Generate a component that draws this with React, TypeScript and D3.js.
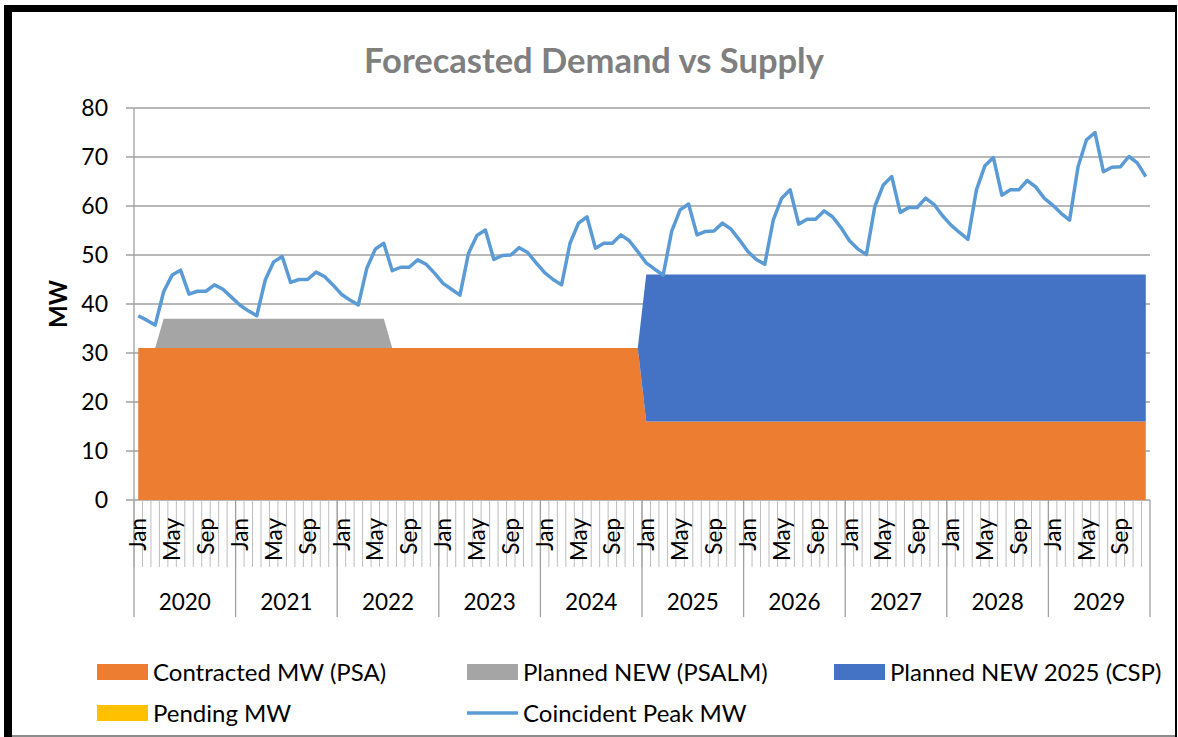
import React from 'react';
import * as d3 from 'd3';

// Coincident peak demand, MW, Jan 2020 .. Dec 2029
const peak2020 = [37.6, 36.7, 35.7, 42.5, 45.9, 46.9, 42.0, 42.6, 42.6, 43.9, 43.0, 41.4];
const peak2021 = [39.8, 38.6, 37.6, 44.9, 48.6, 49.7, 44.4, 45.0, 45.0, 46.5, 45.6, 43.9];
const peak2022 = [42.0, 40.8, 39.8, 47.3, 51.2, 52.4, 46.8, 47.5, 47.5, 49.0, 48.1, 46.3];
const peak2023 = [44.2, 43.0, 41.8, 50.3, 54.0, 55.1, 49.1, 49.9, 50.0, 51.5, 50.5, 48.4];
const peak2024 = [46.4, 45.0, 43.9, 52.4, 56.5, 57.8, 51.4, 52.4, 52.4, 54.1, 52.9, 50.7];
const peak2025 = [48.4, 47.1, 45.9, 54.8, 59.2, 60.4, 54.1, 54.8, 54.9, 56.5, 55.3, 53.1];
const peak2026 = [50.7, 49.1, 48.1, 57.1, 61.6, 63.3, 56.3, 57.3, 57.3, 59.0, 57.8, 55.6];
const peak2027 = [52.9, 51.2, 50.1, 59.9, 64.3, 66.0, 58.7, 59.7, 59.7, 61.6, 60.3, 58.0];
const peak2028 = [56.1, 54.6, 53.2, 63.3, 68.2, 69.9, 62.2, 63.3, 63.3, 65.2, 63.9, 61.6];
const peak2029 = [60.2, 58.5, 57.1, 68.0, 73.5, 75.0, 67.0, 67.9, 68.0, 70.1, 68.8, 66.0];

// Supply, MW per month
const contracted = [
  31, 31, 31, 31, 31, 31, 31, 31, 31, 31, 31, 31,
  31, 31, 31, 31, 31, 31, 31, 31, 31, 31, 31, 31,
  31, 31, 31, 31, 31, 31, 31, 31, 31, 31, 31, 31,
  31, 31, 31, 31, 31, 31, 31, 31, 31, 31, 31, 31,
  31, 31, 31, 31, 31, 31, 31, 31, 31, 31, 31, 31,
  16, 16, 16, 16, 16, 16, 16, 16, 16, 16, 16, 16,
  16, 16, 16, 16, 16, 16, 16, 16, 16, 16, 16, 16,
  16, 16, 16, 16, 16, 16, 16, 16, 16, 16, 16, 16,
  16, 16, 16, 16, 16, 16, 16, 16, 16, 16, 16, 16,
  16, 16, 16, 16, 16, 16, 16, 16, 16, 16, 16, 16,
];
const plannedPsalm = [
  0, 0, 0, 6, 6, 6, 6, 6, 6, 6, 6, 6,
  6, 6, 6, 6, 6, 6, 6, 6, 6, 6, 6, 6,
  6, 6, 6, 6, 6, 6, 0, 0, 0, 0, 0, 0,
  0, 0, 0, 0, 0, 0, 0, 0, 0, 0, 0, 0,
  0, 0, 0, 0, 0, 0, 0, 0, 0, 0, 0, 0,
  0, 0, 0, 0, 0, 0, 0, 0, 0, 0, 0, 0,
  0, 0, 0, 0, 0, 0, 0, 0, 0, 0, 0, 0,
  0, 0, 0, 0, 0, 0, 0, 0, 0, 0, 0, 0,
  0, 0, 0, 0, 0, 0, 0, 0, 0, 0, 0, 0,
  0, 0, 0, 0, 0, 0, 0, 0, 0, 0, 0, 0,
];
const pending = [
  0, 0, 0, 0, 0, 0, 0, 0, 0, 0, 0, 0,
  0, 0, 0, 0, 0, 0, 0, 0, 0, 0, 0, 0,
  0, 0, 0, 0, 0, 0, 0, 0, 0, 0, 0, 0,
  0, 0, 0, 0, 0, 0, 0, 0, 0, 0, 0, 0,
  0, 0, 0, 0, 0, 0, 0, 0, 0, 0, 0, 0,
  0, 0, 0, 0, 0, 0, 0, 0, 0, 0, 0, 0,
  0, 0, 0, 0, 0, 0, 0, 0, 0, 0, 0, 0,
  0, 0, 0, 0, 0, 0, 0, 0, 0, 0, 0, 0,
  0, 0, 0, 0, 0, 0, 0, 0, 0, 0, 0, 0,
  0, 0, 0, 0, 0, 0, 0, 0, 0, 0, 0, 0,
];
const planned2025 = [
  0, 0, 0, 0, 0, 0, 0, 0, 0, 0, 0, 0,
  0, 0, 0, 0, 0, 0, 0, 0, 0, 0, 0, 0,
  0, 0, 0, 0, 0, 0, 0, 0, 0, 0, 0, 0,
  0, 0, 0, 0, 0, 0, 0, 0, 0, 0, 0, 0,
  0, 0, 0, 0, 0, 0, 0, 0, 0, 0, 0, 0,
  30, 30, 30, 30, 30, 30, 30, 30, 30, 30, 30, 30,
  30, 30, 30, 30, 30, 30, 30, 30, 30, 30, 30, 30,
  30, 30, 30, 30, 30, 30, 30, 30, 30, 30, 30, 30,
  30, 30, 30, 30, 30, 30, 30, 30, 30, 30, 30, 30,
  30, 30, 30, 30, 30, 30, 30, 30, 30, 30, 30, 30,
];

const years = ['2020', '2021', '2022', '2023', '2024', '2025', '2026', '2027', '2028', '2029'];
const months = ['Jan', 'Feb', 'Mar', 'Apr', 'May', 'Jun', 'Jul', 'Aug', 'Sep', 'Oct', 'Nov', 'Dec'];
const shownMonths = ['Jan', 'May', 'Sep'];
const yTicks = [0, 10, 20, 30, 40, 50, 60, 70, 80];

const peak = [
  ...peak2020, ...peak2021, ...peak2022, ...peak2023, ...peak2024,
  ...peak2025, ...peak2026, ...peak2027, ...peak2028, ...peak2029,
];

const seriesInfo = [
  { key: 'contracted', label: 'Contracted MW (PSA)', color: '#ED7D31' },
  { key: 'plannedPsalm', label: 'Planned NEW (PSALM)', color: '#A5A5A5' },
  { key: 'pending', label: 'Pending MW', color: '#FFC000' },
  { key: 'planned2025', label: 'Planned NEW 2025 (CSP)', color: '#4472C4' },
];
const lineColor = '#5B9BD5';
const font = 'Lato, "Open Sans", sans-serif';

const App = () => {
  const W = 1178;
  const H = 737;
  const left = 134;
  const right = 1150;
  const top = 108;
  const bottom = 500;

  const rows = peak.map((p, i) => ({
    key: `${years[Math.floor(i / 12)]}-${months[i % 12]}`,
    month: months[i % 12],
    contracted: contracted[i],
    plannedPsalm: plannedPsalm[i],
    pending: pending[i],
    planned2025: planned2025[i],
    peak: p,
  }));

  const x = d3.scaleBand().domain(rows.map((r) => r.key)).range([left, right]).padding(0);
  const bw = x.bandwidth();
  const cx = (k: string) => (x(k) as number) + bw / 2;
  const y = d3.scaleLinear().domain([0, 80]).range([bottom, top]);

  const stacked = d3.stack().keys(seriesInfo.map((s) => s.key))(rows as any);
  const area = d3
    .area<any>()
    .x((d) => cx(d.data.key))
    .y0((d) => y(d[0]))
    .y1((d) => y(d[1]));
  const line = d3
    .line<any>()
    .x((d) => cx(d.key))
    .y((d) => y(d.peak));

  const yearX = d3.scaleBand().domain(years).range([left, right]);

  const legend = [
    { label: seriesInfo[0].label, color: seriesInfo[0].color, x: 97, y: 672, type: 'rect' },
    { label: seriesInfo[1].label, color: seriesInfo[1].color, x: 467, y: 672, type: 'rect' },
    { label: seriesInfo[3].label, color: seriesInfo[3].color, x: 834, y: 672, type: 'rect' },
    { label: seriesInfo[2].label, color: seriesInfo[2].color, x: 97, y: 713, type: 'rect' },
    { label: 'Coincident Peak MW', color: lineColor, x: 467, y: 713, type: 'line' },
  ];

  return (
    <svg
      width={W}
      height={H}
      style={{ position: 'absolute', left: 0, top: 0, background: '#fff' }}
      fontFamily={font}
    >
      <rect x={0} y={0} width={W} height={H} fill="#fff" />

      {/* frame */}
      <rect x={4} y={5} width={1173} height={7} fill="#000" />
      <rect x={4} y={5} width={8} height={H - 5} fill="#000" />
      <rect x={1175} y={5} width={2} height={H - 5} fill="#000" />
      <line x1={12} x2={1175} y1={736} y2={736} stroke="#666" strokeWidth={1.5} />

      <text x={594} y={73} textAnchor="middle" fontSize={34.5} fontWeight="bold" fill="#7F7F7F">
        Forecasted Demand vs Supply
      </text>

      {/* grid + y axis */}
      {yTicks.map((t) => (
        <g key={t}>
          <line x1={left - 8} x2={right} y1={y(t)} y2={y(t)} stroke="#A0A0A0" strokeWidth={1.3} />
          <text x={108} y={y(t)} dy="0.36em" textAnchor="end" fontSize={23} fill="#000">
            {t}
          </text>
        </g>
      ))}
      <line x1={left} x2={left} y1={top} y2={bottom} stroke="#A0A0A0" strokeWidth={1.3} />
      <text
        transform={`translate(67,${(top + bottom) / 2}) rotate(-90)`}
        textAnchor="middle"
        fontSize={24}
        fontWeight="bold"
        fill="#000"
      >
        MW
      </text>

      {/* stacked supply areas */}
      {stacked.map((s, i) => (
        <path key={s.key} d={area(s as any) || ''} fill={seriesInfo[i].color} />
      ))}

      {/* demand line */}
      <path d={line(rows) || ''} fill="none" stroke={lineColor} strokeWidth={3.5} strokeLinejoin="round" />

      {/* x axis: month ticks */}
      {rows.map((r) => (
        <line
          key={r.key}
          x1={x(r.key) as number}
          x2={x(r.key) as number}
          y1={bottom}
          y2={567}
          stroke="#BDBDBD"
          strokeWidth={1}
        />
      ))}
      <line x1={right} x2={right} y1={bottom} y2={617} stroke="#A0A0A0" strokeWidth={1.3} />
      {years.map((yr) => (
        <line
          key={yr}
          x1={yearX(yr) as number}
          x2={yearX(yr) as number}
          y1={bottom}
          y2={617}
          stroke="#A0A0A0"
          strokeWidth={1.3}
        />
      ))}
      {rows
        .filter((r) => shownMonths.includes(r.month))
        .map((r) => (
          <text
            key={r.key}
            transform={`translate(${cx(r.key)},518) rotate(-90)`}
            dy="0.36em"
            textAnchor="end"
            fontSize={22.5}
            fill="#000"
          >
            {r.month}
          </text>
        ))}
      {years.map((yr) => (
        <text
          key={yr}
          x={(yearX(yr) as number) + yearX.bandwidth() / 2}
          y={610}
          textAnchor="middle"
          fontSize={22.5}
          fill="#000"
        >
          {yr}
        </text>
      ))}

      {/* legend */}
      {legend.map((l) => (
        <g key={l.label}>
          {l.type === 'rect' ? (
            <rect x={l.x} y={l.y - 8} width={51} height={16} fill={l.color} />
          ) : (
            <line x1={l.x} x2={l.x + 51} y1={l.y} y2={l.y} stroke={l.color} strokeWidth={3.5} />
          )}
          <text x={l.x + 56} y={l.y} dy="0.36em" fontSize={24} fill="#000">
            {l.label}
          </text>
        </g>
      ))}
    </svg>
  );
};

export default App;
